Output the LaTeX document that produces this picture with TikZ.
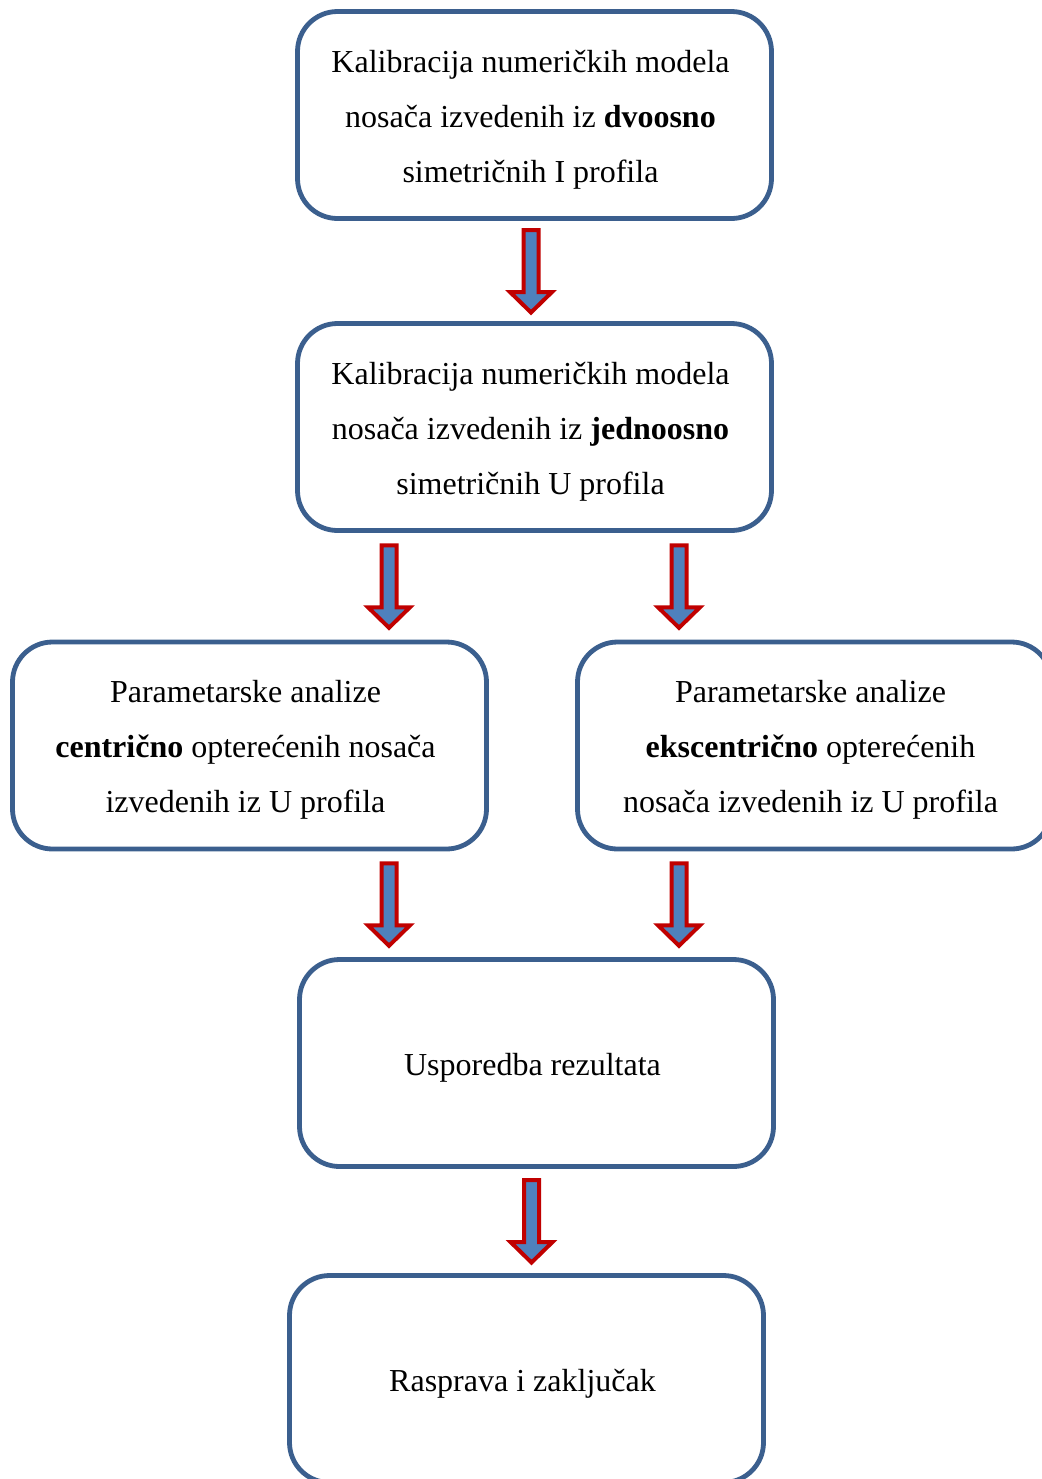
\documentclass[tikz,border=0pt]{standalone}
\usepackage{fontspec}
\setmainfont{Liberation Serif}
\usetikzlibrary{calc}
\definecolor{boxblue}{HTML}{3B5F8E}
\definecolor{arrfill}{HTML}{4F81BD}
\definecolor{arrred}{HTML}{C00000}
\tikzset{
  stepbox/.style={draw=boxblue, line width=3.6pt, rounded corners=30pt, fill=white,
    minimum width=355.5pt, minimum height=155.25pt, inner sep=0pt},
  boxtext/.style={align=center, inner sep=0pt,
    font=\fontsize{24}{41.25}\selectfont},
  downarr/.pic={\draw[draw=arrred, fill=arrfill, line width=3pt, miter limit=10]
    (-7.5,-41) -- (7.5,-41) -- (7.5,21) -- (21,21) -- (0,41.5) -- (-21,21) -- (-7.5,21) -- cycle;}
}
\begin{document}
\begin{tikzpicture}[x=0.75pt,y=-0.75pt]
\useasboundingbox (0,0) rectangle (1042,1479);
\node[stepbox] (b1) at (534.5,115) {};
\node[stepbox] (b2) at (534.5,427) {};
\node[stepbox] (b3) at (249.5,745.5) {};
\node[stepbox] (b4) at (814.5,745.5) {};
\node[stepbox] (b5) at (536.5,1063) {};
\node[stepbox] (b6) at (526.5,1379) {};
\node[boxtext] (t1) at ([shift={(-4,4.5)}]b1.center) {Kalibracija numeričkih modela\\nosača izvedenih iz \textbf{dvoosno}\\simetričnih I profila};
\node[boxtext] (t2) at ([shift={(-4,4.5)}]b2.center) {Kalibracija numeričkih modela\\nosača izvedenih iz \textbf{jednoosno}\\simetričnih U profila};
\node[boxtext] (t3) at ([shift={(-4,4.5)}]b3.center) {Parametarske analize\\\textbf{centrično} opterećenih nosača\\izvedenih iz U profila};
\node[boxtext] (t4) at ([shift={(-4,4.5)}]b4.center) {Parametarske analize\\\textbf{ekscentrično} opterećenih\\nosača izvedenih iz U profila};
\node[boxtext] (t5) at ([shift={(-4,4.5)}]b5.center) {Usporedba rezultata};
\node[boxtext] (t6) at ([shift={(-4,4.5)}]b6.center) {Rasprava i zaključak};
\coordinate (a1) at ($(b1.south)!0.5!(b2.north)+(-3.5,0)$);
\coordinate (a2) at ($(b2.south)!0.5!(b3.north)+(-3,0)$);
\coordinate (a3) at ($(b2.south)!0.5!(b4.north)+(4.5,0)$);
\coordinate (a4) at ($(b3.south)!0.5!(b5.north)+(-4,0)$);
\coordinate (a5) at ($(b4.south)!0.5!(b5.north)+(3.5,0)$);
\coordinate (a6) at ($(b5.south)!0.5!(b6.north)$);
\foreach \c in {a1,a2,a3,a4,a5,a6} \pic at (\c) {downarr};
\end{tikzpicture}
\end{document}
